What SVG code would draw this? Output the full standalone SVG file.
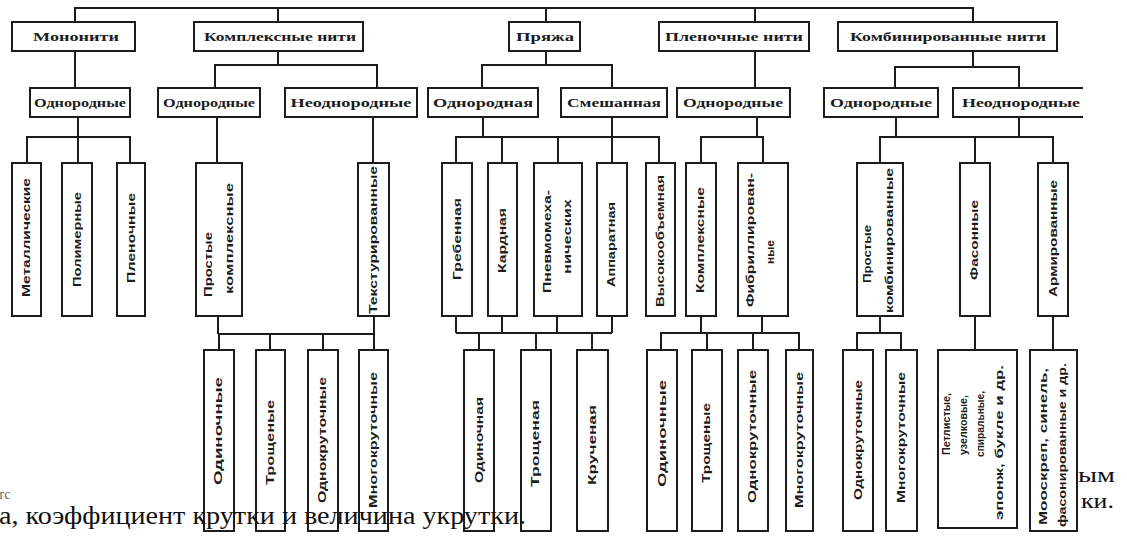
<svg xmlns="http://www.w3.org/2000/svg" width="1127" height="558" viewBox="0 0 1127 558">
<style>
.bx{fill:#fff;stroke:#1c1c1c;stroke-width:2}
.cn{fill:none;stroke:#1c1c1c;stroke-width:2}
.h{font-family:"Liberation Serif","Times New Roman",serif;font-weight:bold;font-size:13px;fill:#1c1c1c;text-anchor:middle}
.v{font-family:"Liberation Sans Narrow","Liberation Sans",Arial,sans-serif;font-weight:bold;font-size:11px;fill:#1c1c1c}
.vs{font-family:"Liberation Sans Narrow","Liberation Sans",Arial,sans-serif;font-weight:bold;font-size:10.5px;fill:#1c1c1c}
.bg{font-family:"Liberation Serif","Times New Roman",serif;font-size:25px;fill:#111}
.bs{font-family:"Liberation Serif","Times New Roman",serif;font-size:22px;fill:#111}
</style>
<rect width="1127" height="558" fill="#fff"/>
<g id="connectors" class="cn">
<path d="M75,22 V8 H973 V22 M278,8 V22 M546,8 V22 M755,8 V22"/>
<path d="M75,51 V88 M278,51 V65 M215,88 V65 H377 V88 M546,51 V65 M482,88 V65 H612 V88 M755,51 V88 M973,51 V67 M895,88 V67 H1019 V88"/>
<path d="M78,117 V137 M27,163 V137 H130 V163 M78,137 V163 M217,117 V163 M373,117 V163"/>
<path d="M483,117 V137 M612,117 V137 M456,163 V137 H659 V163 M502,137 V163 M558,137 V163 M612,137 V163"/>
<path d="M757,117 V137 M701,163 V137 H763 V163"/>
<path d="M896,117 V137 M1019,117 V137 M880,163 V137 H1053 V163 M975,137 V163"/>
<path d="M218,316 V334 M374,316 V334 M219,350 V334 H374 V350 M270,334 V350 M323,334 V350"/>
<path d="M456,316 V333 M502,316 V333 M557,316 V333 M612,316 V333 M456,333 H612 M479,333 V350 M536,333 V350 M592,333 V350"/>
<path d="M701,316 V333 M762,316 V333 M661,350 V333 H799 V350 M707,333 V350 M753,333 V350"/>
<path d="M880,316 V333 M857,350 V333 H901 V350 M975,316 V350 M1053,316 V350"/>
</g>
<g id="n-mononiti"><rect class="bx" x="12" y="22" width="123" height="29"/><text class="h" x="76" y="41" textLength="86" lengthAdjust="spacingAndGlyphs">Мононити</text></g>
<g id="n-kompleksnye"><rect class="bx" x="194" y="22" width="169" height="29"/><text class="h" x="280" y="41" textLength="152" lengthAdjust="spacingAndGlyphs">Комплексные нити</text></g>
<g id="n-pryazha"><rect class="bx" x="509" y="22" width="71" height="29"/><text class="h" x="545" y="41" textLength="58" lengthAdjust="spacingAndGlyphs">Пряжа</text></g>
<g id="n-plenochnye"><rect class="bx" x="659" y="22" width="150" height="29"/><text class="h" x="734" y="41" textLength="138" lengthAdjust="spacingAndGlyphs">Пленочные нити</text></g>
<g id="n-kombinirovannye"><rect class="bx" x="838" y="22" width="219" height="29"/><text class="h" x="948" y="41" textLength="196" lengthAdjust="spacingAndGlyphs">Комбинированные нити</text></g>

<g id="n-mono-odn"><rect class="bx" x="30" y="88" width="100" height="29"/><text class="h" x="80" y="107" textLength="92" lengthAdjust="spacingAndGlyphs">Однородные</text></g>
<g id="n-kompl-odn"><rect class="bx" x="158" y="88" width="102" height="29"/><text class="h" x="209" y="107" textLength="92" lengthAdjust="spacingAndGlyphs">Однородные</text></g>
<g id="n-kompl-neodn"><rect class="bx" x="285" y="88" width="132" height="29"/><text class="h" x="351" y="107" textLength="121" lengthAdjust="spacingAndGlyphs">Неоднородные</text></g>
<g id="n-pr-odn"><rect class="bx" x="428" y="88" width="110" height="29"/><text class="h" x="483" y="107" textLength="100" lengthAdjust="spacingAndGlyphs">Однородная</text></g>
<g id="n-pr-smesh"><rect class="bx" x="561" y="88" width="106" height="29"/><text class="h" x="614" y="107" textLength="94" lengthAdjust="spacingAndGlyphs">Смешанная</text></g>
<g id="n-pl-odn"><rect class="bx" x="677" y="88" width="113" height="29"/><text class="h" x="733" y="107" textLength="100" lengthAdjust="spacingAndGlyphs">Однородные</text></g>
<g id="n-kb-odn"><rect class="bx" x="824" y="88" width="114" height="29"/><text class="h" x="881" y="107" textLength="102" lengthAdjust="spacingAndGlyphs">Однородные</text></g>
<g id="n-kb-neodn"><path class="cn" d="M1083,88 H953 V117 H1083"/><text class="h" x="1021" y="107" textLength="118" lengthAdjust="spacingAndGlyphs">Неоднородные</text></g>

<g id="n-metall"><rect class="bx" x="12" y="163" width="29" height="153"/><text class="v" transform="translate(30,297) rotate(-90)" textLength="119" lengthAdjust="spacingAndGlyphs">Металлические</text></g>
<g id="n-polimer"><rect class="bx" x="62" y="163" width="30" height="153"/><text class="v" transform="translate(81,287) rotate(-90)" textLength="95" lengthAdjust="spacingAndGlyphs">Полимерные</text></g>
<g id="n-plen1"><rect class="bx" x="117" y="163" width="28" height="153"/><text class="v" transform="translate(135,283) rotate(-90)" textLength="90" lengthAdjust="spacingAndGlyphs">Пленочные</text></g>
<g id="n-prost-kompl"><rect class="bx" x="196" y="163" width="46" height="153"/><text class="v" transform="translate(212,297) rotate(-90)" textLength="65" lengthAdjust="spacingAndGlyphs">Простые</text><text class="v" transform="translate(233,294) rotate(-90)" textLength="111" lengthAdjust="spacingAndGlyphs">комплексные</text></g>
<g id="n-tekstur"><rect class="bx" x="358" y="163" width="31" height="153"/><text class="v" transform="translate(377,314) rotate(-90)" textLength="148" lengthAdjust="spacingAndGlyphs">Текстурированные</text></g>
<g id="n-greben"><rect class="bx" x="442" y="163" width="30" height="153"/><text class="v" transform="translate(461,280) rotate(-90)" textLength="82" lengthAdjust="spacingAndGlyphs">Гребенная</text></g>
<g id="n-kard"><rect class="bx" x="488" y="163" width="29" height="153"/><text class="v" transform="translate(506,273) rotate(-90)" textLength="65" lengthAdjust="spacingAndGlyphs">Кардная</text></g>
<g id="n-pnevmo"><rect class="bx" x="534" y="163" width="48" height="153"/><text class="v" transform="translate(551,293) rotate(-90)" textLength="103" lengthAdjust="spacingAndGlyphs">Пневмомеха-</text><text class="v" transform="translate(571,274) rotate(-90)" textLength="75" lengthAdjust="spacingAndGlyphs">нических</text></g>
<g id="n-apparat"><rect class="bx" x="597" y="163" width="30" height="153"/><text class="v" transform="translate(615,287) rotate(-90)" textLength="85" lengthAdjust="spacingAndGlyphs">Аппаратная</text></g>
<g id="n-vysoko"><rect class="bx" x="646" y="163" width="29" height="153"/><text class="v" transform="translate(664,307) rotate(-90)" textLength="132" lengthAdjust="spacingAndGlyphs">Высокообъемная</text></g>
<g id="n-pl-kompl"><rect class="bx" x="686" y="163" width="30" height="153"/><text class="v" transform="translate(704,293) rotate(-90)" textLength="106" lengthAdjust="spacingAndGlyphs">Комплексные</text></g>
<g id="n-fibril"><rect class="bx" x="738" y="163" width="50" height="153"/><text class="v" transform="translate(754,307) rotate(-90)" textLength="134" lengthAdjust="spacingAndGlyphs">Фибриллирован-</text><text class="v" transform="translate(774,264) rotate(-90)" textLength="24" lengthAdjust="spacingAndGlyphs">ные</text></g>
<g id="n-prost-komb"><rect class="bx" x="857" y="163" width="46" height="153"/><text class="v" transform="translate(871,283) rotate(-90)" textLength="58" lengthAdjust="spacingAndGlyphs">Простые</text><text class="v" transform="translate(893,313) rotate(-90)" textLength="145" lengthAdjust="spacingAndGlyphs">комбинированные</text></g>
<g id="n-fason"><rect class="bx" x="960" y="163" width="30" height="153"/><text class="v" transform="translate(978,280) rotate(-90)" textLength="80" lengthAdjust="spacingAndGlyphs">Фасонные</text></g>
<g id="n-armir"><rect class="bx" x="1038" y="163" width="30" height="153"/><text class="v" transform="translate(1057,297) rotate(-90)" textLength="117" lengthAdjust="spacingAndGlyphs">Армированные</text></g>

<g id="n-k-odin"><rect class="bx" x="204" y="350" width="30" height="181"/><text class="v" transform="translate(222,485) rotate(-90)" textLength="108" lengthAdjust="spacingAndGlyphs">Одиночные</text></g>
<g id="n-k-trosh"><rect class="bx" x="256" y="350" width="29" height="181"/><text class="v" transform="translate(274,485) rotate(-90)" textLength="85" lengthAdjust="spacingAndGlyphs">Трощеные</text></g>
<g id="n-k-odnokr"><rect class="bx" x="308" y="350" width="30" height="181"/><text class="v" transform="translate(326,503) rotate(-90)" textLength="126" lengthAdjust="spacingAndGlyphs">Однокруточные</text></g>
<g id="n-k-mnogokr"><rect class="bx" x="359" y="350" width="29" height="181"/><text class="v" transform="translate(377,508) rotate(-90)" textLength="136" lengthAdjust="spacingAndGlyphs">Многокруточные</text></g>
<g id="n-p-odin"><rect class="bx" x="464" y="350" width="30" height="181"/><text class="v" transform="translate(483,483) rotate(-90)" textLength="86" lengthAdjust="spacingAndGlyphs">Одиночная</text></g>
<g id="n-p-trosh"><rect class="bx" x="521" y="350" width="30" height="181"/><text class="v" transform="translate(539,487) rotate(-90)" textLength="87" lengthAdjust="spacingAndGlyphs">Трощеная</text></g>
<g id="n-p-kruch"><rect class="bx" x="577" y="350" width="31" height="181"/><text class="v" transform="translate(596,485) rotate(-90)" textLength="80" lengthAdjust="spacingAndGlyphs">Крученая</text></g>
<g id="n-l-odin"><rect class="bx" x="647" y="350" width="30" height="181"/><text class="v" transform="translate(666,487) rotate(-90)" textLength="107" lengthAdjust="spacingAndGlyphs">Одиночные</text></g>
<g id="n-l-trosh"><rect class="bx" x="692" y="350" width="30" height="181"/><text class="v" transform="translate(710,483) rotate(-90)" textLength="80" lengthAdjust="spacingAndGlyphs">Трощеные</text></g>
<g id="n-l-odnokr"><rect class="bx" x="738" y="350" width="30" height="181"/><text class="v" transform="translate(756,503) rotate(-90)" textLength="133" lengthAdjust="spacingAndGlyphs">Однокруточные</text></g>
<g id="n-l-mnogokr"><rect class="bx" x="786" y="350" width="27" height="181"/><text class="v" transform="translate(803,508) rotate(-90)" textLength="136" lengthAdjust="spacingAndGlyphs">Многокруточные</text></g>
<g id="n-c-odnokr"><rect class="bx" x="843" y="350" width="30" height="181"/><text class="v" transform="translate(862,500) rotate(-90)" textLength="120" lengthAdjust="spacingAndGlyphs">Однокруточные</text></g>
<g id="n-c-mnogokr"><rect class="bx" x="886" y="350" width="31" height="181"/><text class="v" transform="translate(905,503) rotate(-90)" textLength="131" lengthAdjust="spacingAndGlyphs">Многокруточные</text></g>
<g id="n-petlist"><rect class="bx" x="938" y="350" width="79" height="178"/>
<text class="vs" transform="translate(950,455) rotate(-90)" textLength="62" lengthAdjust="spacingAndGlyphs">Петлистые,</text>
<text class="vs" transform="translate(967,455) rotate(-90)" textLength="60" lengthAdjust="spacingAndGlyphs">узелковые,</text>
<text class="vs" transform="translate(984,457) rotate(-90)" textLength="66" lengthAdjust="spacingAndGlyphs">спиральные,</text>
<text class="vs" transform="translate(1003,520) rotate(-90)" textLength="155" lengthAdjust="spacingAndGlyphs">эпонж, букле и др.</text></g>
<g id="n-mooskrep"><rect class="bx" x="1030" y="350" width="47" height="181"/>
<text class="vs" transform="translate(1047,525) rotate(-90)" textLength="157" lengthAdjust="spacingAndGlyphs">Мооскреп, синель,</text>
<text class="vs" transform="translate(1066,527) rotate(-90)" textLength="164" lengthAdjust="spacingAndGlyphs">фасонированные и др.</text></g>

<text x="-2" y="499" style="font-family:'Liberation Serif',serif;font-size:14px;fill:#666">тс</text>
<text class="bg" x="-1" y="524" textLength="527" lengthAdjust="spacingAndGlyphs">а, коэффициент крутки и величина укрутки.</text>
<text class="bs" x="1078" y="482" textLength="37" lengthAdjust="spacingAndGlyphs">ым</text>
<text class="bs" x="1081" y="508" textLength="33" lengthAdjust="spacingAndGlyphs">ки.</text>
</svg>
